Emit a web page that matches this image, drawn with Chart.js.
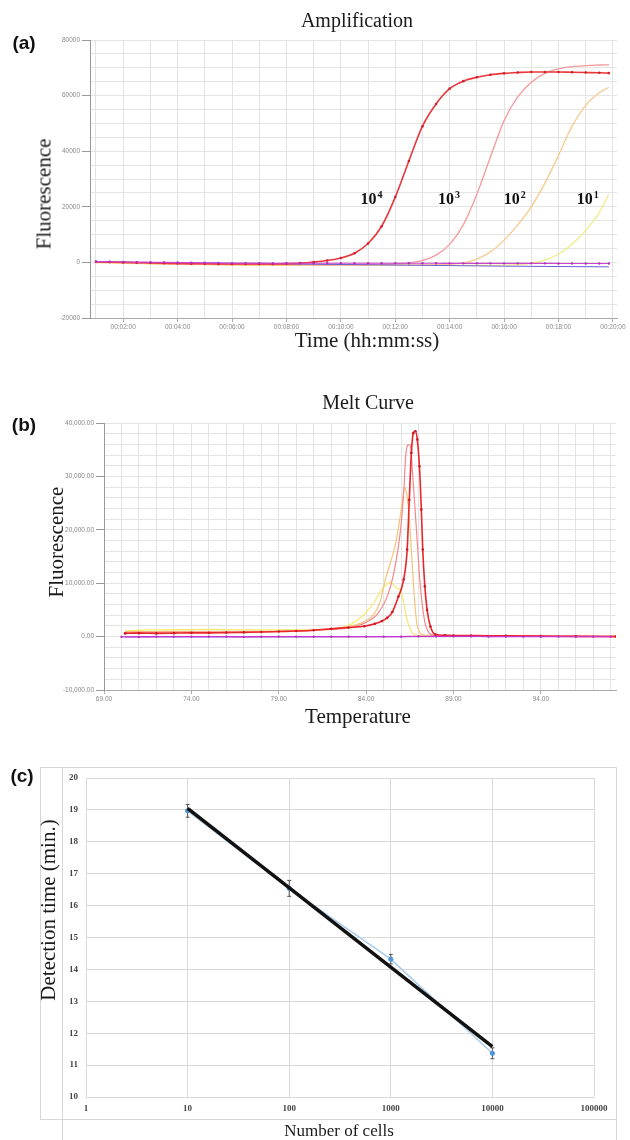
<!DOCTYPE html>
<html>
<head>
<meta charset="utf-8">
<title>Amplification, melt curve and detection time</title>
<script src="https://cdn.jsdelivr.net/npm/chart.js@4.4.1/dist/chart.umd.min.js"></script>
<style>
  body { margin: 0; width: 630px; height: 1140px; overflow: hidden; background: #fff; position: relative; }
  .box { position: absolute; left: 0; width: 640px; }
  .txt { position: absolute; transform: translate(-50%, -50%); white-space: nowrap;
         font-family: 'Liberation Serif', 'Times New Roman', serif; color: #1a1a1a; }
  .up { transform: translate(-50%, -50%) rotate(-90deg); }
  .tag { position: absolute; transform: translate(-50%, -50%); font-family: 'Liberation Sans', Arial, sans-serif;
         font-weight: bold; font-size: 19px; color: #111; }
  .rule { position: absolute; background: #d6d6d6; }
</style>
</head>
<body>

<!-- frame of panel (c) -->
<div class="rule" style="left:40px;top:767px;width:577px;height:1px"></div>
<div class="rule" style="left:40px;top:1119px;width:577px;height:1px"></div>
<div class="rule" style="left:40px;top:767px;width:1px;height:352px"></div>
<div class="rule" style="left:616px;top:767px;width:1px;height:373px"></div>
<div class="rule" style="left:62px;top:767px;width:1px;height:373px"></div>

<div class="box" style="top:0;height:340px"><canvas id="amp"></canvas></div>
<div class="box" style="top:380px;height:330px"><canvas id="melt"></canvas></div>
<div class="box" style="top:760px;height:370px;width:630px"><canvas id="cells"></canvas></div>

<div class="tag" style="left:24px;top:43px">(a)</div>
<div class="tag" style="left:24px;top:425px">(b)</div>
<div class="tag" style="left:22px;top:776px">(c)</div>

<div class="txt" style="left:357px;top:20px;font-size:20px">Amplification</div>
<div class="txt up" style="left:44px;top:194px;font-size:21px">Fluorescence</div>
<div class="txt" style="left:367px;top:340px;font-size:21px">Time (hh:mm:ss)</div>

<div class="txt" style="left:368px;top:402px;font-size:20px">Melt Curve</div>
<div class="txt up" style="left:56px;top:542px;font-size:21px">Fluorescence</div>
<div class="txt" style="left:358px;top:716px;font-size:21px">Temperature</div>

<div class="txt up" style="left:48px;top:910px;font-size:21px">Detection time (min.)</div>
<div class="txt" style="left:339px;top:1131px;font-size:17px">Number of cells</div>

<script>
// ---------- (a) amplification: time in minutes, fluorescence
const ampTime = [1, 1.5, 2, 2.5, 3, 3.5, 4, 4.5, 5, 5.5, 6, 6.5, 7, 7.5, 8, 8.5, 9, 9.5, 10, 10.5,
                 11, 11.5, 12, 12.5, 13, 13.5, 14, 14.5, 15, 15.5, 16, 16.5, 17, 17.5, 18, 18.5, 19, 19.5, 19.85];
const ampE4 = [200, 100, 0, -100, -200, -300, -400, -450, -500, -550, -600, -600, -600, -550, -450, -250, 150, 700, 1600, 3300,
               6800, 13000, 23500, 36500, 49000, 57000, 62500, 65200, 66600, 67500, 68000, 68300, 68500, 68500, 68500, 68400, 68300, 68200, 68100];
const ampE3 = [100, 0, -100, -200, -300, -400, -500, -600, -650, -700, -750, -800, -800, -800, -800, -800, -800, -800, -800, -800,
               -750, -700, -550, -200, 700, 2600, 6500, 13500, 24500, 38000, 51000, 59500, 64800, 68000, 69600, 70400, 70800, 71000, 71100];
const ampE2 = [0, -100, -200, -300, -400, -500, -600, -700, -750, -800, -850, -900, -900, -950, -950, -950, -950, -950, -950, -950,
               -950, -950, -950, -950, -900, -850, -700, -200, 1200, 3800, 8000, 13500, 20000, 28500, 38500, 49000, 56500, 61000, 63000];
const ampE1 = [-100, -200, -300, -400, -500, -600, -700, -750, -800, -850, -900, -950, -1000, -1000, -1000, -1050, -1050, -1050, -1050, -1050,
               -1050, -1100, -1100, -1100, -1100, -1100, -1100, -1100, -1100, -1050, -1000, -800, -300, 800, 3000, 6500, 11500, 18000, 24500];
const ampNtc1 = [300, 250, 200, 100, 50, 0, -50, -100, -150, -200, -250, -250, -250, -300, -300, -300, -300, -300, -300, -300,
                 -300, -300, -300, -300, -300, -300, -350, -350, -350, -350, -350, -350, -350, -350, -400, -400, -400, -400, -400];
const ntcTime = [1, 4, 8, 12, 16, 19.85];
const ampNtc2 = [150, -150, -550, -950, -1350, -1600];
const ampTickLabels = ['00:02:00', '00:04:00', '00:06:00', '00:08:00', '00:10:00',
                       '00:12:00', '00:14:00', '00:16:00', '00:18:00', '00:20:00'];
const ampYLabels = ['-20000', '0', '20000', '40000', '60000', '80000'];
const dilutionExp = ['4', '3', '2', '1'];

// ---------- (b) melt curve: temperature, fluorescence
const meltTempE4 = [70.2, 71, 72, 73, 74, 75, 76, 77, 78, 79, 80, 81, 82, 83, 83.9, 84.5, 84.9, 85.2, 85.5, 85.85,
                    86.15, 86.35, 86.47, 86.59, 86.7, 86.82, 86.93, 87.05, 87.16, 87.24, 87.36, 87.49, 87.68, 87.97, 88.5, 89, 90, 92, 94, 96, 98.3];
const meltE4 = [600, 650, 600, 650, 700, 700, 750, 800, 850, 950, 1050, 1200, 1450, 1700, 1950, 2400, 2900, 3500, 4600, 7500,
                10700, 16300, 25600, 34400, 38100, 38450, 36900, 31900, 23800, 16300, 9400, 5000, 1900, 400, 250, 200, 200, 150, 100, 50, 0];
const meltTempE3 = [70.2, 72, 74, 76, 78, 80, 81, 82, 83, 83.94, 84.7, 85.28, 85.66, 85.95, 86.15, 86.28, 86.44, 86.55, 86.65, 86.8,
                    86.95, 87.1, 87.25, 87.4, 87.6, 87.9, 89, 92, 95, 98.3];
const meltE3 = [800, 800, 850, 850, 900, 1000, 1150, 1350, 1650, 2570, 4440, 8180, 13160, 19420, 26900, 34400, 35950, 35600, 31000, 24000,
                16500, 9500, 5000, 2200, 700, 250, 200, 150, 100, 50];
const meltTempE2 = [70.2, 72, 74, 76, 78, 80, 81, 82, 83, 83.8, 84.4, 84.8, 85.1, 85.4, 85.66, 85.95, 86.1, 86.2, 86.3, 86.42,
                    86.53, 86.63, 86.72, 86.82, 86.9, 87.05, 87.2, 87.6, 90, 94, 98.3];
const meltE2 = [900, 950, 1000, 1000, 1000, 1100, 1200, 1450, 1900, 2700, 4000, 6500, 10700, 14000, 17000, 22500, 26000, 28000, 27000, 24000,
                19400, 14000, 9400, 5000, 2500, 900, 400, 250, 200, 100, 50];
const meltTempE1 = [70.2, 71, 72, 73, 74, 75, 76, 77, 78, 79, 80, 81, 82, 82.8, 83.56, 84.3, 84.9, 85.2, 85.4, 85.6,
                    85.8, 85.95, 86.05, 86.15, 86.34, 86.5, 86.63, 86.9, 88, 92, 98.3];
const meltE1 = [1100, 1200, 1250, 1300, 1300, 1350, 1300, 1250, 1250, 1250, 1250, 1300, 1400, 1900, 3200, 5700, 8800, 9900, 10200, 9600,
                9000, 8900, 7800, 6300, 3200, 1600, 700, 250, 150, 100, 50];
const meltTempNtc = [70, 71, 72, 73, 74, 75, 76, 77, 78, 79, 80, 81, 82, 83, 84, 85, 86, 87, 88, 89, 90, 91, 92, 93, 94, 95, 96, 97, 98];
const meltNtc1 = [-50, -50, 0, 0, 0, 0, 0, -50, 0, 0, 0, 0, 0, 0, 0, 0, 0, 50, 50, 50, 50, 0, 0, 0, 0, 0, 0, 0, 0];
const meltTempNtc2 = [70.2, 80, 90, 98.3];
const meltNtc2 = [-50, -50, 0, 50];
const meltTickLabels = ['69.00', '74.00', '79.00', '84.00', '89.00', '94.00'];
const meltYLabels = ['-10,000.00', '0.00', '10,000.00', '20,000.00', '30,000.00', '40,000.00'];

// ---------- (c) detection time vs number of cells
const cellCounts = [10, 100, 1000, 10000];
const detectTime = [18.97, 16.54, 14.32, 11.37];
const detectErr = [0.2, 0.25, 0.15, 0.17];
const trendX = [10, 10000];
const trendY = [19.05, 11.58];
const cellTicks = [1, 10, 100, 1000, 10000, 100000];
const cellTickLabels = ['1', '10', '100', '1000', '10000', '100000'];
const detectTicks = [10, 11, 12, 13, 14, 15, 16, 17, 18, 19, 20];

const pairs = (xs, ys) => xs.map((x, i) => ({ x: x, y: ys[i] }));
const smallFont = { family: "'Liberation Sans', Arial, sans-serif", size: 6.5 };
const hide = 'rgba(0,0,0,0)';

// "10^n" labels next to the amplification curves
const curveLabels = {
  id: 'curveLabels',
  afterDatasetsDraw(chart, args, opts) {
    const { ctx, scales: { x, y } } = chart;
    const base = y.getPixelForValue(opts.level);
    ctx.save();
    ctx.fillStyle = '#111';
    dilutionExp.forEach((e, i) => {
      const px = x.getPixelForValue(opts.at[i]);
      ctx.font = "bold 16px 'Liberation Serif', serif";
      ctx.fillText('10', px, base);
      const w = ctx.measureText('10').width;
      ctx.font = "bold 10px 'Liberation Serif', serif";
      ctx.fillText(e, px + w + 1, base - 6);
    });
    ctx.restore();
  }
};

// error bars for panel (c)
const errorBars = {
  id: 'errorBars',
  beforeDatasetsDraw(chart) {
    const { ctx, scales: { x, y } } = chart;
    ctx.save();
    ctx.strokeStyle = '#555';
    ctx.lineWidth = 1;
    cellCounts.forEach((c, i) => {
      const px = x.getPixelForValue(c);
      const top = y.getPixelForValue(detectTime[i] + detectErr[i]);
      const bot = y.getPixelForValue(detectTime[i] - detectErr[i]);
      ctx.beginPath();
      ctx.moveTo(px, top); ctx.lineTo(px, bot);
      ctx.moveTo(px - 2, top); ctx.lineTo(px + 2, top);
      ctx.moveTo(px - 2, bot); ctx.lineTo(px + 2, bot);
      ctx.stroke();
    });
    ctx.restore();
  }
};

// (a)
new Chart(document.getElementById('amp'), {
  type: 'line',
  data: {
    datasets: [
      { label: 'NTC', data: pairs(ampTime, ampNtc1), borderColor: '#cc44cc', borderWidth: 1.2,
        pointRadius: 1.2, pointBackgroundColor: '#b52fbf', pointBorderWidth: 0 },
      { label: '10^4', data: pairs(ampTime, ampE4), borderColor: '#e8383d', borderWidth: 1.6,
        pointRadius: 1.3, pointBackgroundColor: '#d41e2a', pointBorderWidth: 0 },
      { label: 'NTC 2', data: pairs(ntcTime, ampNtc2), borderColor: '#6a5fd8', borderWidth: 1, pointRadius: 0 },
      { label: '10^3', data: pairs(ampTime, ampE3), borderColor: '#f59a9c', borderWidth: 1.3, pointRadius: 0 },
      { label: '10^2', data: pairs(ampTime, ampE2), borderColor: '#f8c98e', borderWidth: 1.3, pointRadius: 0 },
      { label: '10^1', data: pairs(ampTime, ampE1), borderColor: '#f3ea86', borderWidth: 1.3, pointRadius: 0 }
    ]
  },
  options: {
    responsive: true,
    maintainAspectRatio: false,
    animation: false,
    layout: { padding: { top: 40, right: 23, left: 0, bottom: 0 } },
    elements: { line: { cubicInterpolationMode: 'monotone', fill: false } },
    plugins: {
      legend: { display: false },
      tooltip: { enabled: false },
      curveLabels: { at: [10.72, 13.57, 15.99, 18.67], level: 21000 }
    },
    scales: {
      x: {
        type: 'linear', min: 0.78, max: 20.15,
        afterBuildTicks: s => { s.ticks = []; for (let m = 1; m <= 20; m++) s.ticks.push({ value: m }); },
        afterFit: s => { s.height = 22; },
        ticks: { font: smallFont, color: '#888', padding: 1, autoSkip: false, maxRotation: 0,
                 callback: v => v % 2 === 0 ? ampTickLabels[v / 2 - 1] : '' },
        grid: { color: '#e4e4e4', tickLength: 4,
                tickColor: c => c.tick && c.tick.value % 2 === 0 ? '#aaa' : hide },
        border: { color: '#aaa' }
      },
      y: {
        min: -20000, max: 80000,
        afterBuildTicks: s => { s.ticks = []; for (let v = -20000; v <= 80000; v += 5000) s.ticks.push({ value: v }); },
        afterFit: s => { s.width = 90; },
        ticks: { font: smallFont, color: '#888', padding: 2, autoSkip: false,
                 callback: v => v % 20000 === 0 ? ampYLabels[(v + 20000) / 20000] : '' },
        grid: { color: '#e4e4e4', tickLength: 8,
                tickColor: c => c.tick && c.tick.value % 20000 === 0 ? '#999' : hide },
        border: { color: '#999' }
      }
    }
  },
  plugins: [curveLabels]
});

// (b)
new Chart(document.getElementById('melt'), {
  type: 'line',
  data: {
    datasets: [
      { label: 'NTC', data: pairs(meltTempNtc, meltNtc1), borderColor: '#cc33cc', borderWidth: 1.3,
        pointRadius: 1.2, pointBackgroundColor: '#b52fbf', pointBorderWidth: 0 },
      { label: '10^4', data: pairs(meltTempE4, meltE4), borderColor: '#e8262b', borderWidth: 1.6,
        pointRadius: 1.3, pointBackgroundColor: '#d01822', pointBorderWidth: 0 },
      { label: '10^3', data: pairs(meltTempE3, meltE3), borderColor: '#f4898c', borderWidth: 1.2, pointRadius: 0 },
      { label: '10^2', data: pairs(meltTempE2, meltE2), borderColor: '#f9c47a', borderWidth: 1.2, pointRadius: 0 },
      { label: '10^1', data: pairs(meltTempE1, meltE1), borderColor: '#f3ea70', borderWidth: 1.2, pointRadius: 0 },
      { label: 'NTC 2', data: pairs(meltTempNtc2, meltNtc2), borderColor: '#5a55d0', borderWidth: 1, pointRadius: 0 }
    ]
  },
  options: {
    responsive: true,
    maintainAspectRatio: false,
    animation: false,
    layout: { padding: { top: 43, right: 24, left: 0, bottom: 0 } },
    elements: { line: { cubicInterpolationMode: 'monotone', fill: false } },
    plugins: { legend: { display: false }, tooltip: { enabled: false } },
    scales: {
      x: {
        type: 'linear', min: 69, max: 98.3,
        afterBuildTicks: s => { s.ticks = []; for (let t = 69; t <= 98; t++) s.ticks.push({ value: t }); },
        afterFit: s => { s.height = 20; },
        ticks: { font: smallFont, color: '#888', padding: 1, autoSkip: false, maxRotation: 0,
                 callback: v => (v - 69) % 5 === 0 ? meltTickLabels[(v - 69) / 5] : '' },
        grid: { color: '#e4e4e4', tickLength: 4,
                tickColor: c => c.tick && (c.tick.value - 69) % 5 === 0 ? '#aaa' : hide },
        border: { color: '#aaa' }
      },
      y: {
        min: -10000, max: 40000,
        afterBuildTicks: s => { s.ticks = []; for (let v = -10000; v <= 40000; v += 2000) s.ticks.push({ value: v }); },
        afterFit: s => { s.width = 104; },
        ticks: { font: smallFont, color: '#888', padding: 2, autoSkip: false,
                 callback: v => v % 10000 === 0 ? meltYLabels[(v + 10000) / 10000] : '' },
        grid: { color: '#e4e4e4', tickLength: 8,
                tickColor: c => c.tick && c.tick.value % 10000 === 0 ? '#999' : hide },
        border: { color: '#999' }
      }
    }
  }
});

// (c)
const serifTick = { family: "'Liberation Serif', serif", size: 9, weight: 'bold' };
new Chart(document.getElementById('cells'), {
  type: 'line',
  data: {
    datasets: [
      { label: 'trend', data: pairs(trendX, trendY), borderColor: '#111', borderWidth: 3.5, pointRadius: 0 },
      { label: 'Detection time', data: pairs(cellCounts, detectTime), borderColor: '#a9cdec', borderWidth: 1.5,
        pointRadius: 2.5, pointBackgroundColor: '#4f94d8', pointBorderWidth: 0 }
    ]
  },
  options: {
    responsive: true,
    maintainAspectRatio: false,
    animation: false,
    layout: { padding: { top: 18, right: 36, left: 0, bottom: 0 } },
    elements: { line: { tension: 0, fill: false } },
    plugins: { legend: { display: false }, tooltip: { enabled: false } },
    scales: {
      x: {
        type: 'logarithmic', min: 1, max: 100000,
        afterBuildTicks: s => { s.ticks = cellTicks.map(v => ({ value: v })); },
        afterFit: s => { s.height = 33; },
        ticks: { font: serifTick, color: '#444', padding: 6, autoSkip: false, maxRotation: 0,
                 callback: (v, i) => cellTickLabels[i] },
        grid: { color: '#d9d9d9', drawTicks: false },
        border: { display: false }
      },
      y: {
        min: 10, max: 20,
        afterBuildTicks: s => { s.ticks = detectTicks.map(v => ({ value: v })); },
        afterFit: s => { s.width = 86; },
        ticks: { font: serifTick, color: '#444', padding: 8, autoSkip: false, callback: v => String(v) },
        grid: { color: '#d9d9d9', drawTicks: false },
        border: { display: false }
      }
    }
  },
  plugins: [errorBars]
});
</script>
</body>
</html>
